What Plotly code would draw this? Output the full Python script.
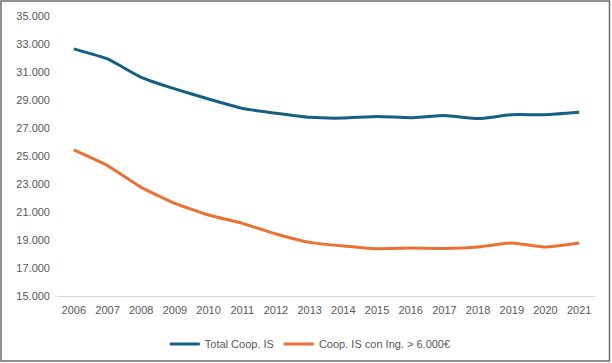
import plotly.graph_objects as go

years = [str(y) for y in range(2006, 2022)]
total_coop = [32650, 31930, 30620, 29790, 29070, 28400, 28050, 27760, 27710, 27830, 27740, 27900, 27670, 27950, 27950, 28120]
coop_ing = [25430, 24310, 22760, 21620, 20790, 20190, 19430, 18830, 18570, 18380, 18430, 18400, 18500, 18790, 18500, 18790]
y_ticks = list(range(15000, 35001, 2000))
y_tick_labels = [f"{v:,}".replace(",", ".") for v in y_ticks]

W, H = 612, 363
L, R, T, B = 57, 16, 16, 67
pw, ph = W - L - R, H - T - B

font_family = "Liberation Sans Narrow, Arial Narrow, Liberation Sans, sans-serif"

fig = go.Figure()
fig.add_trace(go.Scatter(x=years, y=total_coop, mode="lines", name="Total Coop. IS",
                         line=dict(color="#156082", width=3, shape="spline", smoothing=0.4)))
fig.add_trace(go.Scatter(x=years, y=coop_ing, mode="lines", name="Coop. IS con Ing. > 6.000€",
                         line=dict(color="#E97132", width=3, shape="spline", smoothing=0.4)))

fig.update_layout(
    width=W, height=H,
    margin=dict(l=L, r=R, t=T, b=B, autoexpand=False),
    paper_bgcolor="white", plot_bgcolor="white",
    font=dict(family=font_family, size=11, color="#595959"),
    showlegend=True,
    legend=dict(orientation="h", x=0.47, xanchor="center", y=-0.12, yanchor="top",
                font=dict(size=11, color="#595959"), traceorder="normal"),
    xaxis=dict(type="category", showgrid=False, showline=True, linecolor="#D9D9D9", linewidth=1,
               ticks="", automargin=False, ticklabelstandoff=4,
               tickfont=dict(size=11, color="#595959"), range=[-0.5, 15.5]),
    yaxis=dict(range=[15000, 35000], tickvals=y_ticks, ticktext=y_tick_labels, showgrid=False,
               zeroline=False, showline=False, ticks="", automargin=False, ticklabelstandoff=6,
               tickfont=dict(size=11, color="#595959")),
    shapes=[dict(type="rect", xref="paper", yref="paper",
                 x0=(1 - L) / pw, x1=(609.5 - L) / pw,
                 y0=(H - B - 361) / ph, y1=(H - B - 1) / ph,
                 line=dict(color="#6B6B6B", width=1.5), fillcolor="rgba(0,0,0,0)")],
)

fig.write_html("out.html", config={"displayModeBar": False},
               post_script="document.body.style.margin='0';document.body.style.overflow='hidden';")
